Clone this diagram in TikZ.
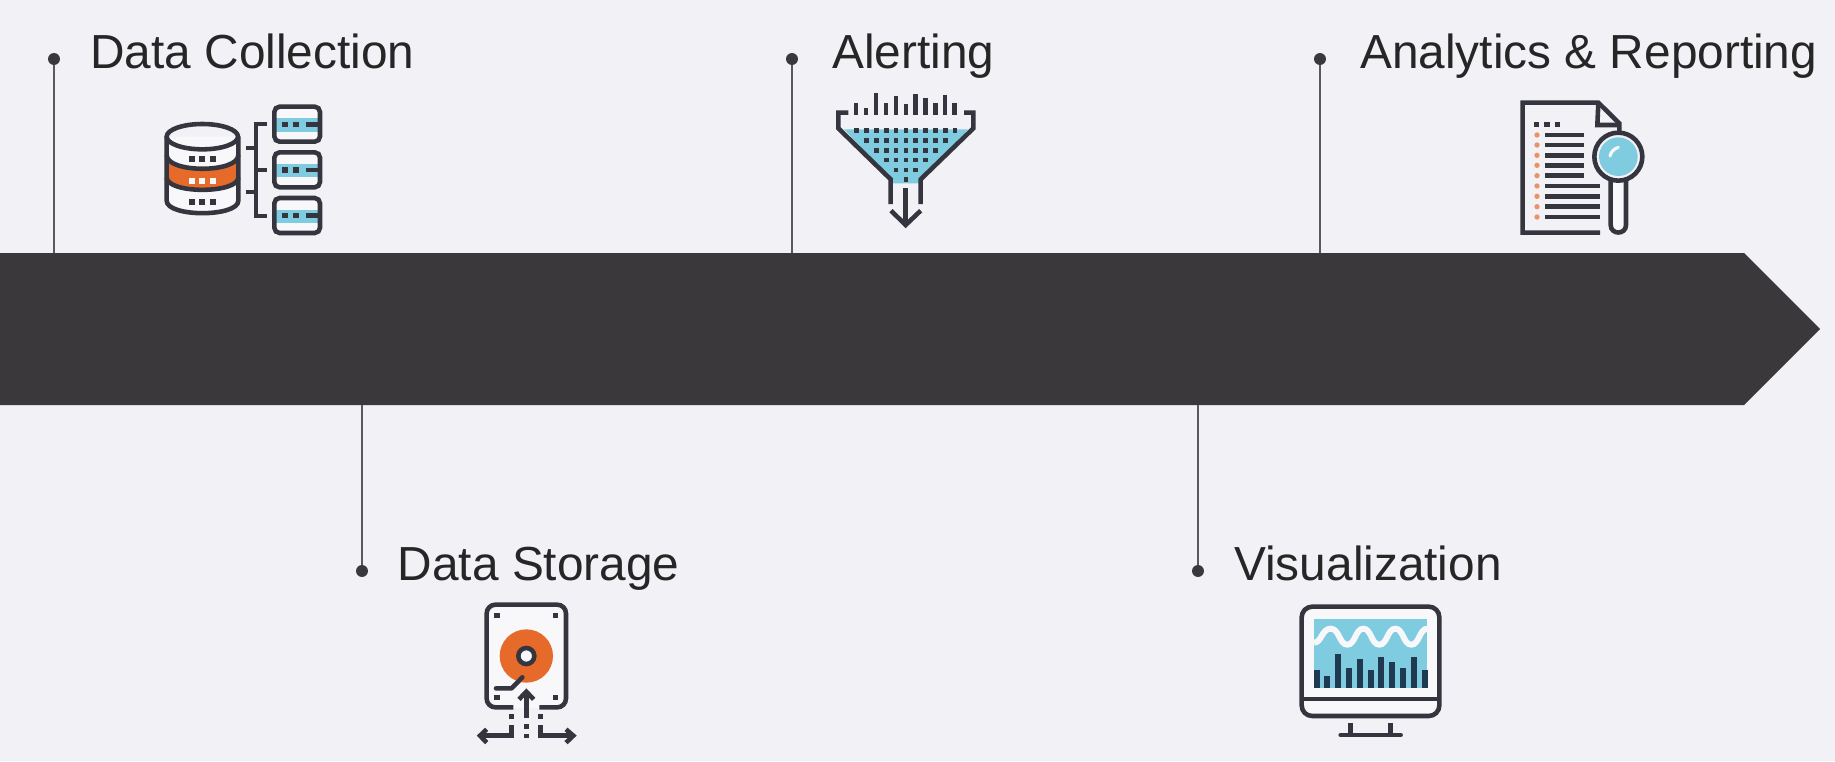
\documentclass[tikz,border=0pt]{standalone}
\usepackage{fontspec}
\setmainfont{Liberation Sans}
\definecolor{bgc}{HTML}{F2F1F5}
\definecolor{barc}{HTML}{3A383B}
\definecolor{inkc}{HTML}{35353F}
\definecolor{bluec}{HTML}{7FCBE0}
\definecolor{orangec}{HTML}{E66A2A}
\definecolor{linec}{HTML}{5A5A5C}
\definecolor{navyc}{HTML}{1F3A50}
\definecolor{whc}{HTML}{F8F8FA}
\tikzset{
  pin/.style={circle,fill=barc,inner sep=0pt,minimum size=6.8pt},
  stem/.style={draw=linec,line width=1.3pt},
  lab/.style={anchor=base west,inner sep=0pt,text=black!85,font=\fontsize{27.2pt}{30pt}\selectfont},
  ic/.style={draw=inkc,line width=2.6pt,line cap=butt,line join=miter},
  icr/.style={draw=inkc,line width=2.6pt,line cap=round,line join=round},
  zoomscope/.style={shift={#1},xscale=1/3,yscale=1/3}
}
\begin{document}
\begin{tikzpicture}[x=0.02cm,y=-0.02cm]
\useasboundingbox (0,0) rectangle (1835,761);
\fill[bgc] (0,0) rectangle (1835,761);
% arrow band
\fill[barc] (0,253) -- (1744,253) -- (1820,329) -- (1744,405) -- (0,405) -- cycle;
\coordinate (a1) at (54,253);
\coordinate (a2) at (792,253);
\coordinate (a3) at (1320,253);
\coordinate (b1) at (362,405);
\coordinate (b2) at (1198,405);
\node[pin] (p1) at (54,59) {};
\node[pin] (p2) at (792,59) {};
\node[pin] (p3) at (1320,59) {};
\node[pin] (q1) at (362,571) {};
\node[pin] (q2) at (1198,571) {};
\draw[stem] (p1) -- (a1);
\draw[stem] (p2) -- (a2);
\draw[stem] (p3) -- (a3);
\draw[stem] (q1) -- (b1);
\draw[stem] (q2) -- (b2);
\node[lab] (t1) at (90,68) {Data Collection};
\node[lab] (t2) at (832,68) {Alerting};
\node[lab] (t3) at (1360,68) {Analytics \& Reporting};
\node[lab] (t4) at (397.5,580) {Data Storage};
\node[lab] (t5) at (1234,580) {Visualization};

% --- icon 1: database
\begin{scope}[zoomscope={(140,90)}]
\fill[whc] (80,140) -- (80,332) .. controls (80,382) and (295,382) .. (295,332) -- (295,140) -- cycle;
\fill[orangec] (80,195) .. controls (80,250) and (295,250) .. (295,195) -- (295,262) .. controls (295,312) and (80,312) .. (80,262) -- cycle;
\draw[ic] (187,140) ellipse [x radius=107,y radius=38];
\draw[ic] (80,140) -- (80,332) .. controls (80,382) and (295,382) .. (295,332) -- (295,140);
\draw[ic] (80,195) .. controls (80,250) and (295,250) .. (295,195);
\draw[ic] (80,262) .. controls (80,312) and (295,312) .. (295,262);
\foreach \x in {155,186,219}{
  \fill[inkc] (\x-9,198) rectangle (\x+9,216);
  \fill[whc] (\x-9,263) rectangle (\x+9,281);
  \fill[inkc] (\x-9,328) rectangle (\x+9,346);
}
\draw[ic] (382,102) -- (348,102) -- (348,378) -- (382,378);
\draw[ic] (348,240) -- (382,240);
\draw[ic] (318,174) -- (348,174);
\draw[ic] (318,306) -- (348,306);
\foreach \o in {0,137,274}{
  \fill[whc,rounded corners=3pt] (403,50+\o) rectangle (540,155+\o);
  \fill[bluec] (408,85+\o) rectangle (535,125+\o);
  \draw[ic,rounded corners=3pt] (403,50+\o) rectangle (540,155+\o);
  \fill[inkc] (427,95+\o) rectangle (443,111+\o);
  \fill[inkc] (460,95+\o) rectangle (476,111+\o);
  \fill[inkc] (498,96+\o) rectangle (540,110+\o);
}
\end{scope}

% --- icon 2: funnel
\begin{scope}[zoomscope={(820,80)}]
\fill[bluec] (72,148) -- (445,148) -- (300,298) -- (300,310) -- (214,310) -- (214,298) -- cycle;
\draw[ic] (85,98) -- (55,98) -- (55,145) -- (212,298) -- (212,372);
\draw[ic] (432,98) -- (460,98) -- (460,145) -- (302,298) -- (302,372);
\foreach \x/\t in {108/70,138/85,168/38,198/68,228/48,258/72,287/42,316/55,346/68,375/45,404/70}{
  \fill[inkc] (\x-7,\t) rectangle (\x+7,105);
}
\foreach \yy/\first/\n in {152/110/10,182/139.5/8,211/169/6,240/198.5/4,270/228/2,299/257.5/0}{
  \foreach \i in {0,...,\n}{
    \fill[inkc] ({\first+29.5*\i-7},\yy-7) rectangle ({\first+29.5*\i+7},\yy+7);
  }
}
\draw[ic] (257,325) -- (257,430);
\draw[ic] (213,392) -- (257,435) -- (302,392);
\end{scope}

% --- icon 3: report
\begin{scope}[zoomscope={(1500,90)}]
\draw[ic] (300,428) -- (68,428) -- (68,38) -- (295,38) -- (358,100) -- (358,132);
\draw[ic] (295,38) -- (292,105) -- (358,105);
\foreach \x in {110,141,172}{\fill[inkc] (\x-8,96) rectangle (\x+8,112);}
\foreach \yy in {135,165,196,226,257}{
  \fill[inkc] (135,\yy-7) rectangle (252,\yy+7);
  \fill[orangec!70!bgc] (111,\yy) circle [radius=8];
}
\foreach \yy in {288,319,350,381}{
  \fill[inkc] (135,\yy-7) rectangle (300,\yy+7);
  \fill[orangec!70!bgc] (111,\yy) circle [radius=8];
}
\draw[ic,fill=whc] (332,272) -- (332,405) .. controls (332,435) and (378,435) .. (378,405) -- (378,272);
\fill[bluec] (355,200) circle [radius=58];
\draw[ic,fill=none] (355,200) circle [radius=72];
\draw[draw=whc,line width=1.8pt,line cap=round] (330,198) .. controls (333,185) and (342,176) .. (355,172);
\end{scope}

% --- icon 4: hard disk
\begin{scope}[zoomscope={(460,590)}]
\fill[whc,rounded corners=5pt] (80,44) rectangle (318,355);
\draw[ic,rounded corners=5pt] (160,352) -- (80,352) -- (80,44) -- (318,44) -- (318,352) -- (238,352);
\foreach \x/\yy in {111/76,286/76,111/323,286/323}{\fill[inkc] (\x-8,\yy-8) rectangle (\x+8,\yy+8);}
\fill[orangec] (199,198) circle [radius=80];
\draw[ic,fill=whc] (199,198) circle [radius=24];
\draw[icr] (108,295) -- (155,295) -- (187,262);
\draw[ic] (199,385) -- (199,310);
\draw[ic] (177,328) -- (199,305) -- (221,328);
\foreach \x/\yy in {155/380,242/380,199/410,199/438}{\fill[inkc] (\x-7,\yy-7) rectangle (\x+7,\yy+7);}
\draw[ic] (155,405) -- (155,437) -- (65,437);
\draw[ic] (80,418) -- (60,437) -- (80,458);
\draw[ic] (242,405) -- (242,437) -- (335,437);
\draw[ic] (318,418) -- (340,437) -- (318,458);
\end{scope}

% --- icon 5: monitor
\begin{scope}[zoomscope={(1280,590)}]
\fill[whc,rounded corners=6pt] (65,50) rectangle (478,378);
\fill[bluec] (102,88) rectangle (442,295);
\draw[draw=whc,line width=3.4pt] (102,158) .. controls (125,158) and (125,116) .. (152,116)
  .. controls (178,116) and (178,164) .. (202,164)
  .. controls (226,164) and (226,116) .. (250,116)
  .. controls (274,116) and (274,164) .. (298,164)
  .. controls (322,164) and (322,116) .. (346,116)
  .. controls (370,116) and (370,164) .. (394,164)
  .. controls (418,164) and (418,116) .. (442,116);
\foreach \x/\t in {110/240,142/258,175/192,207/234,240/208,272/240,304/200,337/216,369/234,402/202,434/240}{
  \fill[navyc] (\x-9,\t) rectangle (\x+9,295);
}
\draw[ic,rounded corners=6pt] (65,50) rectangle (478,378);
\draw[ic] (65,327) -- (478,327);
\draw[ic] (212,400) -- (212,435);
\draw[ic] (332,400) -- (332,435);
\draw[icr] (182,435) -- (362,435);
\end{scope}
\end{tikzpicture}
\end{document}
